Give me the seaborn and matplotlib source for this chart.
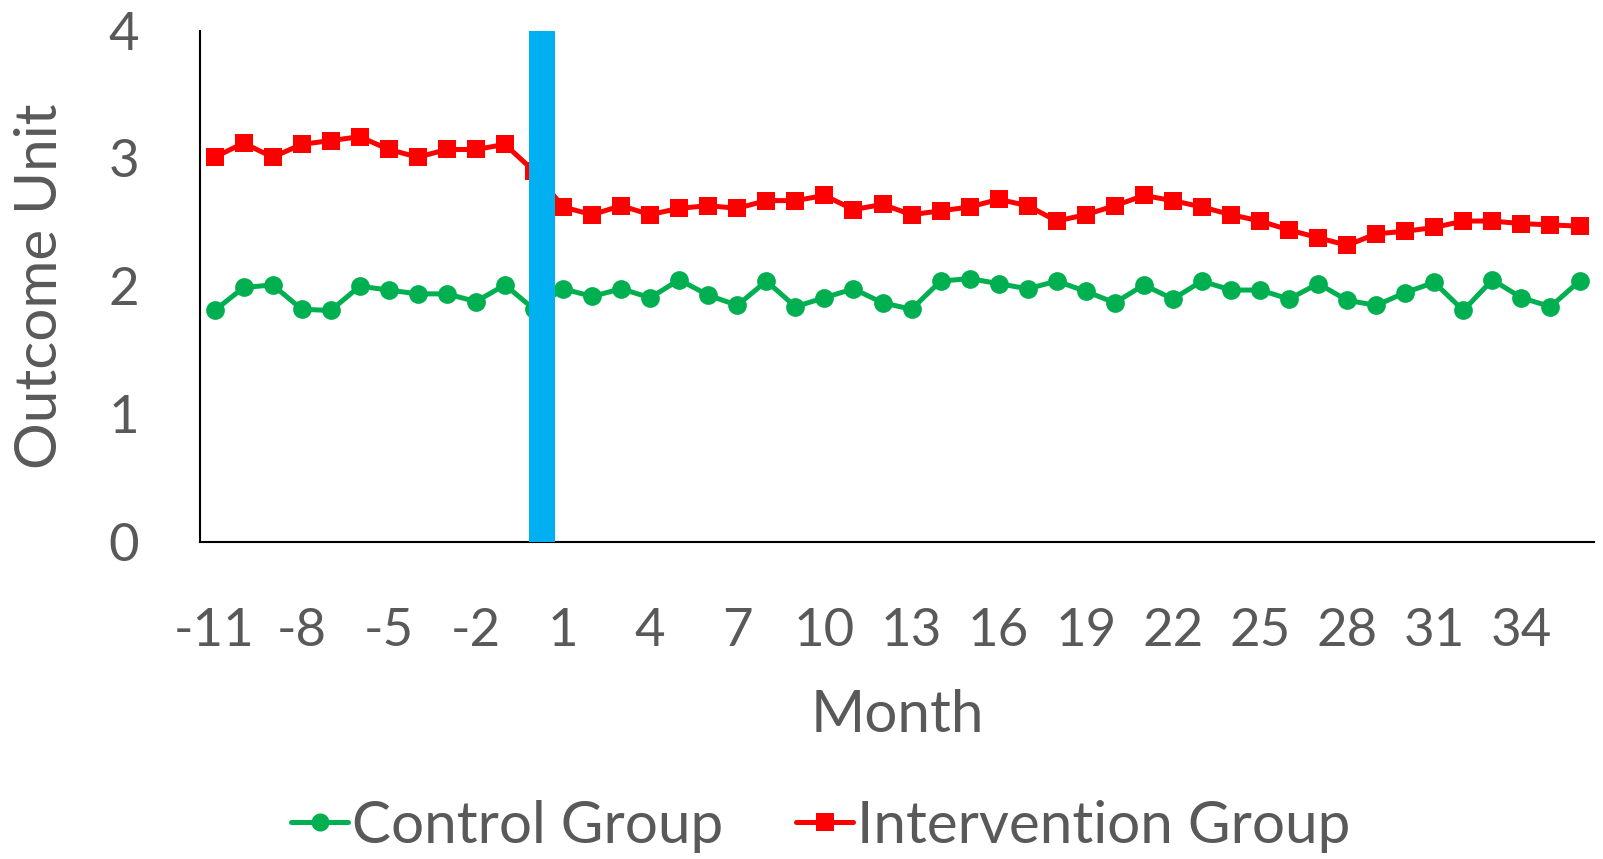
import numpy as np
import pandas as pd
import matplotlib
matplotlib.use("Agg")
import matplotlib.pyplot as plt
import seaborn as sns
from matplotlib.lines import Line2D

months = list(range(-11, 37))
control = [1.81, 1.99, 2.01, 1.82, 1.81, 2.00, 1.97, 1.94, 1.94, 1.88, 2.01, 1.82,
           1.98, 1.92, 1.98, 1.91, 2.05, 1.93, 1.85, 2.04, 1.84, 1.91, 1.98, 1.87,
           1.82, 2.04, 2.06, 2.02, 1.98, 2.04, 1.96, 1.87, 2.01, 1.90, 2.04, 1.97,
           1.97, 1.90, 2.02, 1.89, 1.85, 1.95, 2.03, 1.81, 2.05, 1.91, 1.84, 2.04]
intervention = [3.01, 3.12, 3.01, 3.11, 3.14, 3.17, 3.07, 3.01, 3.07, 3.07, 3.11, 2.90,
                2.62, 2.56, 2.63, 2.56, 2.61, 2.63, 2.61, 2.67, 2.67, 2.71, 2.60, 2.64,
                2.56, 2.59, 2.62, 2.68, 2.63, 2.51, 2.56, 2.63, 2.71, 2.67, 2.62, 2.56,
                2.51, 2.44, 2.38, 2.32, 2.41, 2.43, 2.46, 2.51, 2.51, 2.49, 2.48, 2.47]
x_ticks = list(range(-11, 35, 3))
y_ticks = [0, 1, 2, 3, 4]
intervention_span = (-0.16, 0.71)
groups = ["Control Group", "Intervention Group"]

df = pd.DataFrame({
    "Month": months * 2,
    "Value": control + intervention,
    "Group": [groups[0]] * len(months) + [groups[1]] * len(months),
})

sns.set_style("white")
plt.rcParams["font.family"] = ["Lato", "DejaVu Sans"]
gray = "#595959"
green = "#00B050"
red = "#FF0000"
blue = "#00B0F0"

fig = plt.figure(figsize=(16.03, 8.59), dpi=100)
ax = fig.add_axes([0.1248, 0.3693, 0.9944 - 0.1248, 0.9643 - 0.3693])

sns.lineplot(data=df, x="Month", y="Value", hue="Group", style="Group",
             palette={groups[0]: green, groups[1]: red},
             markers={groups[0]: "o", groups[1]: "s"}, dashes=False,
             linewidth=3.6, markersize=13.5, markeredgewidth=0, ax=ax, legend=False)

ax.axvspan(intervention_span[0], intervention_span[1], color=blue, zorder=5, lw=0)

ax.set_xlim(-11.5, 36.5)
ax.set_ylim(0, 4)
ax.set_xticks(x_ticks)
ax.set_xticklabels([str(t) for t in x_ticks])
ax.set_yticks(y_ticks)
ax.tick_params(axis="both", length=0, labelsize=38, labelcolor=gray)
ax.tick_params(axis="x", pad=48)
ax.tick_params(axis="y", pad=44)
ax.set_xlabel("Month", fontsize=42, color=gray, labelpad=24)
ax.set_ylabel("Outcome Unit", fontsize=42, color=gray, labelpad=30)

for s in ["top", "right"]:
    ax.spines[s].set_visible(False)
for s in ["left", "bottom"]:
    ax.spines[s].set_color("black")
    ax.spines[s].set_linewidth(1.5)
ax.grid(False)

handles = [Line2D([0], [0], color=green, lw=3.6, marker="o", markersize=13, markeredgewidth=0),
           Line2D([0], [0], color=red, lw=3.6, marker="s", markersize=13, markeredgewidth=0)]
leg = fig.legend(handles, groups, loc="center", bbox_to_anchor=(0.512, 0.038), ncol=2,
                 frameon=False, fontsize=42, handlelength=0.98, handletextpad=0.06,
                 columnspacing=1.25)
for t in leg.get_texts():
    t.set_color(gray)

fig.savefig("out.png", dpi=100)
